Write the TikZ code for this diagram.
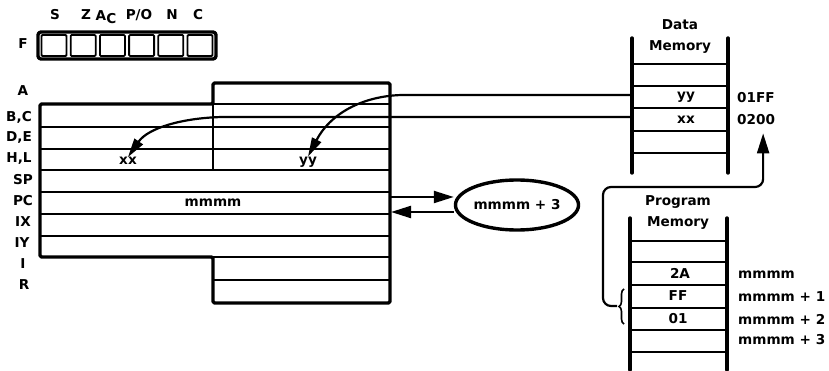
\documentclass[tikz,border=0pt]{standalone}
\usepackage{fontspec}
\setmainfont{DejaVu Sans}
\usetikzlibrary{arrows.meta,shapes.geometric,decorations.pathreplacing}
\begin{document}
\begin{tikzpicture}[x=1pt,y=-1pt,
  every node/.style={font=\bfseries\fontsize{13.6}{15}\selectfont, inner sep=0pt},
  heavy/.style={line width=3.4pt, line cap=round, line join=round},
  rowline/.style={line width=2.3pt},
  conn/.style={line width=2.2pt},
  arr/.style={conn, -{Triangle[length=19pt,width=10pt]}},
  arrbig/.style={conn, -{Triangle[length=20pt,width=12pt]}},
  cell/.style={line width=1.8pt, rounded corners=1pt},
  memwall/.style={line width=3.4pt, line cap=round},
]
\useasboundingbox (0,0) rectangle (829,371);

% ---------------- Flags ----------------
\node (fF) at (23,44) {F};
\draw[heavy, rounded corners=3pt] (38,32) rectangle (216,59);
\foreach \i in {0,...,5} {
  \draw[cell] ({41.5+29.2*\i},35) rectangle ({66.5+29.2*\i},56);
}
\node (fS)  at (55,15)  {S};
\node (fZ)  at (86,15)  {Z};
\node (fAC) at (106,17) {A\raisebox{-0.45ex}{C}};
\node (fPO) at (139,15) {P/O};
\node (fN)  at (172,15) {N};
\node (fC)  at (198,15) {C};

% ---------------- Register file ----------------
\draw[heavy, rounded corners=1.5pt]
  (40,104) -- (213,104) -- (213,83) -- (390,83) -- (390,303)
  -- (213,303) -- (213,257) -- (40,257) -- cycle;
\draw[rowline] (213,104) -- (390,104);
\foreach \yy in {127,149,170,192,214,236} {
  \draw[rowline] (40,\yy) -- (390,\yy);
}
\draw[rowline] (213,257) -- (390,257);
\draw[rowline] (213,280) -- (390,280);
\draw[rowline] (213,83) -- (213,170);

\node (lA)  at (23,91)  {A};
\node (lBC) at (19,117) {B,C};
\node (lDE) at (19,138) {D,E};
\node (lHL) at (19,159) {H,L};
\node (lSP) at (23,180) {SP};
\node (lPC) at (23,201) {PC};
\node (lIX) at (23,222) {IX};
\node (lIY) at (22,243) {IY};
\node (lI)  at (23,264) {I};
\node (lR)  at (24,285) {R};

\node (rxx) at (128,161) {xx};
\node (ryy) at (308,162) {yy};
\node (rpc) at (213,203) {mmmm};

% ---------------- Data memory ----------------
\node (dT1) at (680,25) {Data};
\node (dT2) at (680,47) {Memory};
\draw[memwall] (632,38) -- (632,173);
\draw[memwall] (728,38) -- (728,173);
\foreach \yy in {64,86,108,131,153} {
  \draw[rowline] (632,\yy) -- (728,\yy);
}
\node (dyy) at (686,97) {yy};
\node (dxx) at (686,120) {xx};
\node[anchor=west] (a01FF) at (737,98) {01FF};
\node[anchor=west] (a0200) at (737,120) {0200};
\coordinate (dL1) at (632,95);
\coordinate (dL2) at (632,117);

% data -> registers
\draw[arr] (dL1) -- (402,95) .. controls (362,96) and (330,114) .. (ryy.north);
\draw[arr] (dL2) -- (222,117) .. controls (182,118) and (148,128) .. (rxx.north);

% ---------------- PC + 3 ----------------
\node[ellipse, draw, line width=3.4pt, minimum width=120pt, minimum height=50pt] (pc3) at (517,205) {mmmm + 3};
\coordinate (pcout) at (391,197);
\coordinate (pcin) at (391,212);
\draw[arrbig] (pcout) -- (pcout -| pc3.west);
\draw[arrbig] (pcin -| pc3.west) -- (pcin);

% ---------------- Program memory ----------------
\node (pT1) at (678,202) {Program};
\node (pT2) at (678,223) {Memory};
\draw[memwall] (630,218) -- (630,370);
\draw[memwall] (727,218) -- (727,370);
\foreach \yy in {241,262,285,308,330,352} {
  \draw[rowline] (630,\yy) -- (727,\yy);
}
\node (p2A) at (680,273) {2A};
\node (pFF) at (678,296) {FF};
\node (p01) at (678,319) {01};
\node[anchor=west] (m0) at (738,275) {mmmm};
\node[anchor=west] (m1) at (738,297) {mmmm + 1};
\node[anchor=west] (m2) at (738,319) {mmmm + 2};
\node[anchor=west] (m3) at (738,340) {mmmm + 3};

\draw[line width=1.6pt, decorate, decoration={brace, amplitude=5pt}] (624,324) -- (624,289);
\coordinate (brtip) at (617,306);
\draw[arrbig, rounded corners=8pt] (brtip) -| (603,187) -| ([shift={(7,8)}]a0200.south);
\end{tikzpicture}
\end{document}
